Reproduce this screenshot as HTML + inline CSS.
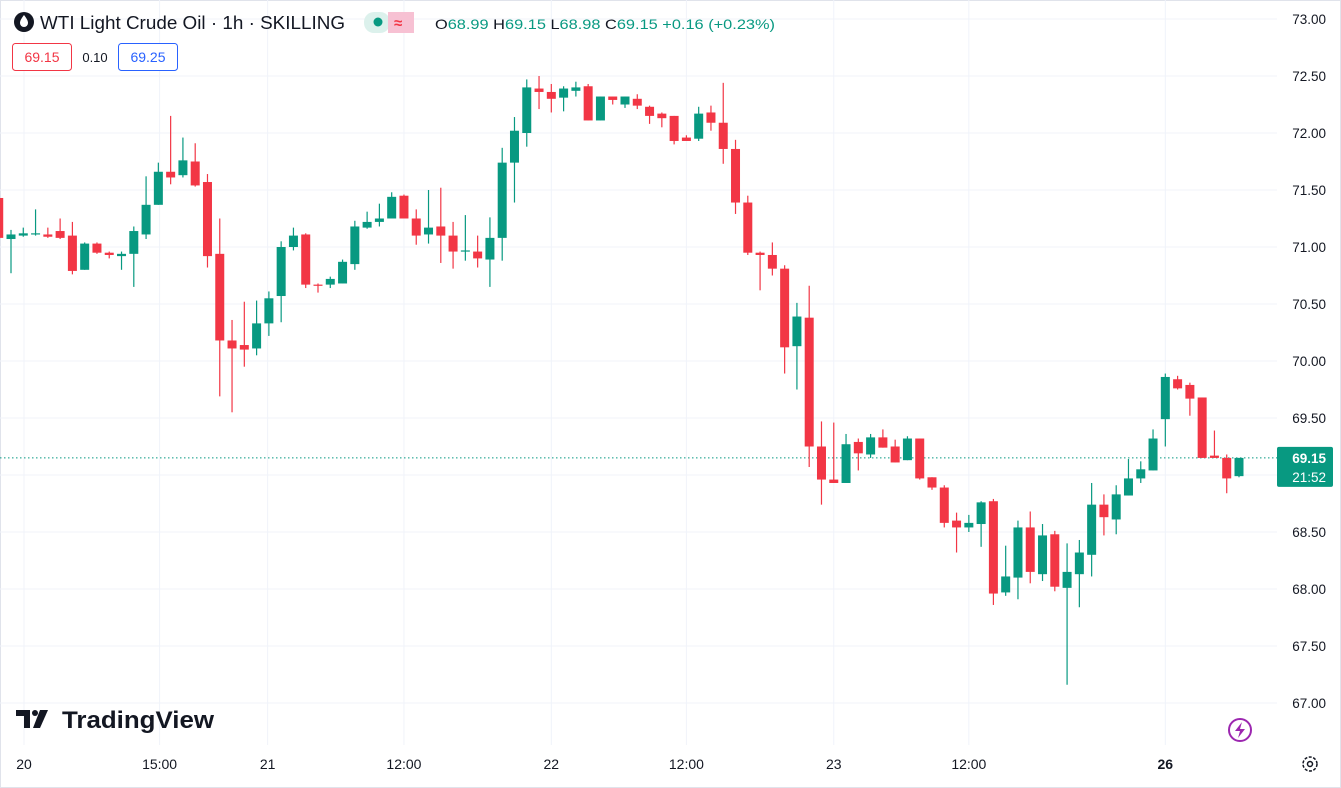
<!DOCTYPE html>
<html><head><meta charset="utf-8"><style>
html,body{margin:0;padding:0;background:#fff;}
body{width:1341px;height:788px;overflow:hidden;position:relative;font-family:"Liberation Sans",sans-serif;}
svg{position:absolute;left:0;top:0;}
</style></head><body>
<svg id="chart" width="1341" height="788">
<rect x="0.5" y="0.5" width="1340" height="787" fill="#fff" stroke="#e0e3eb"/>
<g id="grid"></g>
<g id="candles"></g>
<g id="yaxis"></g>
<g id="xaxis"></g>
<g>
 <circle cx="24" cy="22" r="10" fill="#131722"/>
 <path d="M24 15 C21 19 20 21 20 23 A4 4 0 0 0 28 23 C28 21 27 19 24 15Z" fill="#fff"/>
 <text x="40" y="29" font-size="18" fill="#131722" textLength="305" lengthAdjust="spacingAndGlyphs">WTI Light Crude Oil · 1h · SKILLING</text>
 <rect x="364" y="12" width="26" height="21" rx="10" fill="#dcf1ec"/>
 <rect x="388" y="12" width="26" height="21" rx="0" fill="#f7c1d3"/>
 <circle cx="378" cy="22" r="4.5" fill="#089981"/>
 <text x="394" y="28" font-size="15" fill="#f23645" font-weight="bold">≈</text>
 <text x="435" y="29" font-size="14" fill="#089981" textLength="340" lengthAdjust="spacingAndGlyphs"><tspan fill="#131722">O</tspan>68.99 <tspan fill="#131722">H</tspan>69.15 <tspan fill="#131722">L</tspan>68.98 <tspan fill="#131722">C</tspan>69.15 +0.16 (+0.23%)</text>
 <rect x="12.5" y="43.5" width="59" height="27" rx="3" fill="#fff" stroke="#f23645"/>
 <text x="42" y="62" font-size="14" fill="#f23645" text-anchor="middle">69.15</text>
 <text x="95" y="62" font-size="13" fill="#131722" text-anchor="middle">0.10</text>
 <rect x="118.5" y="43.5" width="59" height="27" rx="3" fill="#fff" stroke="#2962ff"/>
 <text x="148" y="62" font-size="14" fill="#2962ff" text-anchor="middle">69.25</text>
</g>
<g>
 <path d="M16 710 H30 V728 H24 V716 H16Z" fill="#131722"/>
 <circle cx="35" cy="713" r="3" fill="#131722"/>
 <path d="M40 710 H48 L40 728 H33Z" fill="#131722"/>
 <text x="62" y="728" font-size="24" font-weight="bold" fill="#131722" textLength="152" lengthAdjust="spacingAndGlyphs">TradingView</text>
</g>
<g>
 <circle cx="1240" cy="730" r="11" fill="#fff" stroke="#9c27b0" stroke-width="2"/>
 <path d="M1242 722 L1235 731 H1240 L1238 738 L1245 729 H1240Z" fill="#9c27b0"/>
</g>
<g>
 <circle cx="1310" cy="764" r="7" fill="none" stroke="#131722" stroke-width="1.5" stroke-dasharray="3 1.5"/>
 <circle cx="1310" cy="764" r="2.5" fill="none" stroke="#131722" stroke-width="1.5"/>
</g>
</svg>
<script>
const opens=[71.43,71.07,71.10,71.11,71.11,71.14,71.10,70.80,71.03,70.95,70.92,70.94,71.11,71.37,71.66,71.63,71.75,71.57,70.94,70.18,70.14,70.11,70.33,70.57,71.00,71.11,70.67,70.67,70.68,70.85,71.17,71.22,71.25,71.45,71.25,71.11,71.18,71.10,70.96,70.96,70.89,71.08,71.74,72.00,72.39,72.36,72.31,72.37,72.41,72.11,72.32,72.25,72.30,72.23,72.17,72.15,71.96,71.95,72.18,72.09,71.86,71.39,70.95,70.93,70.81,70.13,70.38,69.25,68.96,68.93,69.29,69.18,69.33,69.25,69.13,69.32,68.98,68.89,68.60,68.54,68.57,68.77,67.97,68.10,68.54,68.13,68.48,68.01,68.13,68.30,68.74,68.61,68.82,68.97,69.04,69.49,69.84,69.79,69.68,69.17,69.15,68.99];
const highs=[71.45,71.15,71.17,71.33,71.17,71.25,71.22,71.04,71.04,70.96,70.96,71.18,71.62,71.74,72.15,71.96,71.91,71.64,71.25,70.36,70.52,70.53,70.61,71.05,71.17,71.12,70.68,70.74,70.89,71.23,71.31,71.38,71.48,71.46,71.33,71.50,71.52,71.22,71.28,71.10,71.26,71.87,72.14,72.47,72.50,72.43,72.41,72.45,72.43,72.32,72.32,72.32,72.34,72.24,72.18,72.15,71.98,72.23,72.24,72.44,71.94,71.45,70.96,71.04,70.84,70.51,70.66,69.47,69.46,69.36,69.32,69.36,69.40,69.31,69.34,69.32,68.98,68.91,68.67,68.65,68.77,68.79,68.38,68.60,68.68,68.57,68.51,68.40,68.43,68.93,68.83,68.91,69.14,69.12,69.40,69.89,69.87,69.81,69.68,69.39,69.18,69.15];
const lows=[71.05,70.77,71.09,71.10,71.08,71.07,70.76,70.80,70.94,70.90,70.80,70.65,71.07,71.37,71.55,71.61,71.53,70.82,69.69,69.55,69.95,70.05,70.22,70.34,70.97,70.64,70.60,70.64,70.68,70.80,71.16,71.18,71.25,71.25,71.02,71.03,70.86,70.81,70.88,70.82,70.65,70.88,71.39,71.88,72.21,72.18,72.19,72.32,72.11,72.11,72.25,72.22,72.21,72.08,72.05,71.90,71.93,71.93,72.02,71.73,71.29,70.93,70.62,70.75,69.89,69.75,69.07,68.74,68.93,68.93,69.04,69.15,69.24,69.11,69.13,68.96,68.87,68.54,68.32,68.50,68.37,67.86,67.94,67.91,68.05,68.07,67.98,67.16,67.84,68.11,68.47,68.48,68.82,68.93,69.04,69.25,69.75,69.52,69.15,69.15,68.84,68.98];
const closes=[71.08,71.11,71.12,71.12,71.09,71.08,70.79,71.03,70.95,70.93,70.94,71.14,71.37,71.66,71.61,71.76,71.54,70.92,70.18,70.11,70.10,70.33,70.55,71.00,71.10,70.67,70.66,70.72,70.87,71.18,71.22,71.25,71.44,71.25,71.10,71.17,71.10,70.96,70.97,70.90,71.08,71.74,72.02,72.40,72.36,72.30,72.39,72.40,72.11,72.32,72.29,72.32,72.24,72.15,72.13,71.93,71.93,72.17,72.09,71.86,71.39,70.95,70.93,70.81,70.12,70.39,69.25,68.96,68.93,69.27,69.19,69.33,69.24,69.11,69.32,68.97,68.89,68.58,68.54,68.58,68.76,67.96,68.11,68.54,68.15,68.47,68.02,68.15,68.32,68.74,68.63,68.83,68.97,69.05,69.32,69.86,69.76,69.67,69.15,69.15,68.97,69.15];
const priceTicks=[73.00,72.50,72.00,71.50,71.00,70.50,70.00,69.50,69.00,68.50,68.00,67.50,67.00];
const timeLabels=["20","15:00","21","12:00","22","12:00","23","12:00","26"];
const timeLabelIdx=[2.06,13.1,21.9,33,45,56,68,79,95];
const boldLabel=[false,false,false,false,false,false,false,false,true];
const lastPrice=69.15;
const NS="http://www.w3.org/2000/svg";
const yOf=p=>19+(73-p)*114;
const xOf=i=>-1.28+i*12.28;
function mk(tag,attrs,parent){const e=document.createElementNS(NS,tag);for(const k in attrs)e.setAttribute(k,attrs[k]);parent.appendChild(e);return e;}
const grid=document.getElementById('grid'),cg=document.getElementById('candles'),ya=document.getElementById('yaxis'),xa=document.getElementById('xaxis');
priceTicks.forEach(p=>{
 const l=mk('line',{x1:0,x2:1277,y1:yOf(p),y2:yOf(p),stroke:'#f0f3fa','stroke-width':1},grid);
 
 
 const t=mk('text',{x:1326,y:yOf(p)+5,'font-size':13.5,fill:'#131722','text-anchor':'end'},ya);
 t.textContent=p.toFixed(2);
 
 
});
timeLabels.forEach((s,k)=>{
 const x=xOf(timeLabelIdx[k]);
 const l=mk('line',{x1:x,x2:x,y1:0,y2:745,stroke:'#f0f3fa','stroke-width':1},grid);
 
 
 const t=mk('text',{x:x,y:769,'font-size':14,fill:'#131722','text-anchor':'middle','font-weight':boldLabel[k]?'bold':'normal'},xa);
 t.textContent=s;
 
 
});
opens.forEach((o,i)=>{
 const c=closes[i],up=c>=o,col=up?'#089981':'#f23645',x=xOf(i);
 const g=mk('g',{},cg);
 
 
 mk('line',{x1:x,x2:x,y1:yOf(highs[i]),y2:yOf(lows[i]),stroke:col,'stroke-width':1.2},g);
 const top=yOf(Math.max(o,c)),bot=yOf(Math.min(o,c));
 mk('rect',{x:x-4.5,y:top,width:9,height:Math.max(1.2,bot-top),fill:col},g);
});
const ly=yOf(lastPrice);
const dl=mk('line',{x1:0,x2:1277,y1:ly,y2:ly,stroke:'#089981','stroke-width':1,'stroke-dasharray':'1.5 2.5'},grid);


const box=mk('rect',{x:1277,y:ly-11,width:56,height:40,rx:2,fill:'#089981'},ya);


const t1=mk('text',{x:1326,y:ly+5,'font-size':13.5,fill:'#fff','text-anchor':'end','font-weight':'bold'},ya);t1.textContent=lastPrice.toFixed(2);
const t2=mk('text',{x:1326,y:ly+24,'font-size':13.5,fill:'#fff','text-anchor':'end'},ya);t2.textContent='21:52';
</script>
</body></html>
